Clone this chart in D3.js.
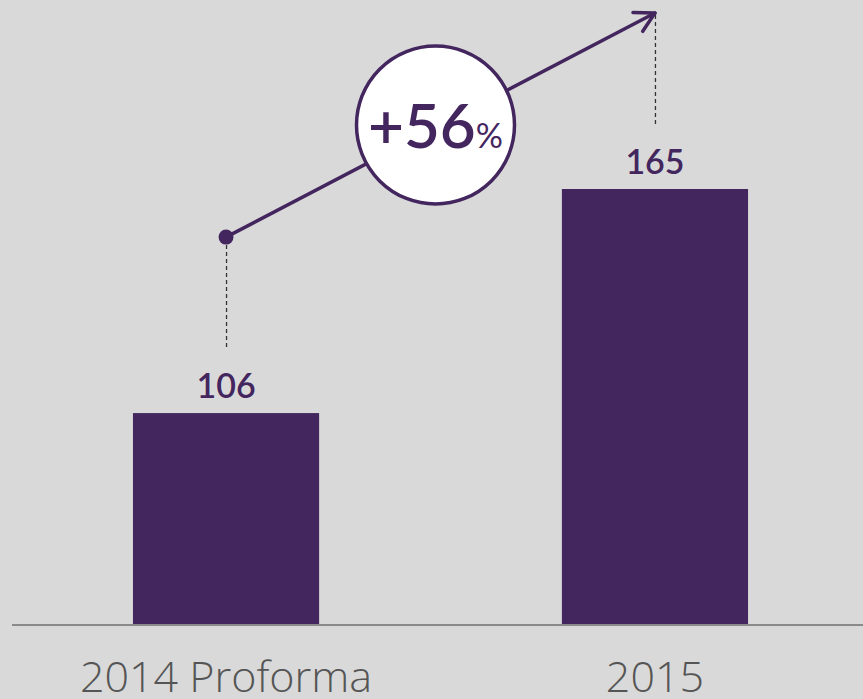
<!DOCTYPE html>
<html>
<head>
<meta charset="utf-8">
<script src="https://cdn.jsdelivr.net/npm/d3@7"></script>
<style>
  html, body { margin: 0; padding: 0; background: #d9d9d9; }
  svg { display: block; }
</style>
</head>
<body>
<script>
const categories = ["2014 Proforma", "2015"];
const values = [106, 165];
const valueLabels = ["106", "165"];
const growthLabel = "+56";
const growthUnit = "%";

const W = 863, H = 699;
const purple = "#44265f";

const svg = d3.select("body").append("svg")
  .attr("width", W).attr("height", H)
  .style("background", "#d9d9d9");

const x = d3.scaleBand()
  .domain(categories)
  .range([12, 869])
  .paddingInner(0.566)
  .paddingOuter(0.282);

const y = d3.scaleLinear()
  .domain([50.2, 165])
  .range([625, 189]);

// bars
svg.selectAll("rect.bar")
  .data(values)
  .join("rect")
  .attr("class", "bar")
  .attr("x", (d, i) => x(categories[i]))
  .attr("width", x.bandwidth())
  .attr("y", d => y(d))
  .attr("height", d => y.range()[0] - y(d))
  .attr("fill", purple);

// baseline
svg.append("line")
  .attr("x1", 12).attr("x2", W)
  .attr("y1", 625).attr("y2", 625)
  .attr("stroke", "#8a8a8a").attr("stroke-width", 2);

// value labels
svg.selectAll("text.val")
  .data(values)
  .join("text")
  .attr("class", "val")
  .attr("x", (d, i) => x(categories[i]) + x.bandwidth() / 2)
  .attr("y", d => y(d) - 15)
  .attr("text-anchor", "middle")
  .attr("font-family", "Lato, 'Open Sans', sans-serif")
  .attr("font-weight", 600)
  .attr("font-size", 34)
  .attr("fill", purple)
  .text((d, i) => valueLabels[i]);

// category labels
svg.selectAll("text.cat")
  .data(categories)
  .join("text")
  .attr("class", "cat")
  .attr("x", d => x(d) + x.bandwidth() / 2)
  .attr("y", 692)
  .attr("text-anchor", "middle")
  .attr("font-family", "'Open Sans', Lato, sans-serif")
  .attr("font-weight", 300)
  .attr("font-size", 43)
  .attr("fill", "#555555")
  .text(d => d);

// growth arrow
const lift = 176;
const pts = values.map((v, i) => [x(categories[i]) + x.bandwidth() / 2, y(v) - lift]);

// dashed connectors
svg.selectAll("line.dash")
  .data(values)
  .join("line")
  .attr("class", "dash")
  .attr("x1", (d, i) => pts[i][0] + 0.5)
  .attr("x2", (d, i) => pts[i][0] + 0.5)
  .attr("y1", (d, i) => pts[i][1] + (i === 0 ? 8 : 2))
  .attr("y2", d => y(d) - 63)
  .attr("stroke", "#333")
  .attr("stroke-width", 1.3)
  .attr("stroke-dasharray", "4,3");

svg.append("line")
  .attr("x1", pts[0][0]).attr("y1", pts[0][1])
  .attr("x2", pts[1][0]).attr("y2", pts[1][1])
  .attr("stroke", purple).attr("stroke-width", 3.5)
  .attr("stroke-linecap", "round");

svg.append("circle")
  .attr("cx", pts[0][0]).attr("cy", pts[0][1])
  .attr("r", 7.5).attr("fill", purple);

// arrow head (open chevron)
const ang = Math.atan2(pts[1][1] - pts[0][1], pts[1][0] - pts[0][0]);
const hl = 22, spread = 0.5;
const tip = pts[1];
const a1 = [tip[0] - hl * Math.cos(ang - spread), tip[1] - hl * Math.sin(ang - spread)];
const a2 = [tip[0] - hl * Math.cos(ang + spread), tip[1] - hl * Math.sin(ang + spread)];
svg.append("path")
  .attr("d", d3.line()([a1, tip, a2]))
  .attr("fill", "none")
  .attr("stroke", purple).attr("stroke-width", 3.5)
  .attr("stroke-linecap", "round").attr("stroke-linejoin", "round");

// growth bubble
const cx = (pts[0][0] + pts[1][0]) / 2 - 5;
const cy = (pts[0][1] + pts[1][1]) / 2;
svg.append("circle")
  .attr("cx", cx).attr("cy", cy).attr("r", 79)
  .attr("fill", "#ffffff")
  .attr("stroke", purple).attr("stroke-width", 3.5);

const gt = svg.append("text")
  .attr("x", cx).attr("y", cy + 23)
  .attr("text-anchor", "middle")
  .attr("font-family", "Lato, 'Open Sans', sans-serif")
  .attr("fill", purple);
gt.append("tspan").attr("font-size", 62).attr("font-weight", 600).text(growthLabel);
gt.append("tspan").attr("font-size", 34).attr("font-weight", 400).text(growthUnit);
</script>
</body>
</html>
